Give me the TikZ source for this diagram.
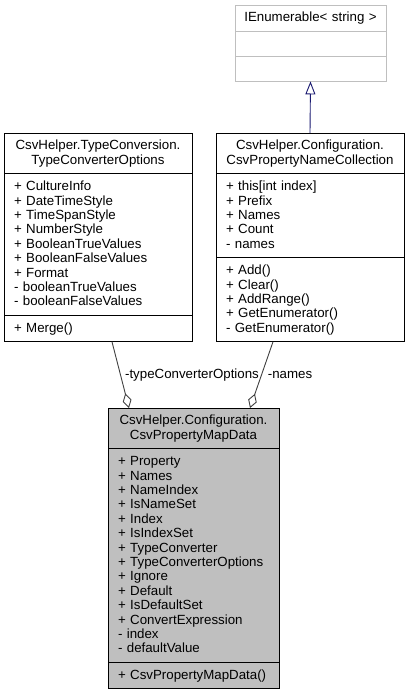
\documentclass[tikz,border=0pt]{standalone}
\usepackage{fontspec}
\setmainfont{Liberation Sans}
\usetikzlibrary{arrows.meta,calc}
\definecolor{grayfill}{HTML}{BFBFBF}
\definecolor{aggcol}{HTML}{404040}
\definecolor{inhcol}{HTML}{191970}
\newcommand\fs{\fontsize{13.3}{14.4}\selectfont}
\newcommand\ms{\rule[-3.6pt]{0pt}{14.4pt}}
\begin{document}
\begin{tikzpicture}[x=1pt,y=-1pt,
  sec/.style={draw=black, line width=0.9pt, anchor=north west, outer sep=0pt,
    inner xsep=8pt, inner ysep=6pt, font=\fs, fill=white},
  head/.style={sec, align=center},
  body/.style={sec, align=left, inner xsep=10pt},
  ext/.style={draw=grayfill},
  doc/.style={fill=grayfill},
  agg/.style={draw=aggcol, line width=0.9pt, -{Diamond[open, length=15pt, width=9pt]}},
  inh/.style={draw=inhcol, line width=0.9pt, -{Triangle[open, length=13pt, width=10pt]}},
  lbl/.style={font=\fs, inner sep=0pt}]
\useasboundingbox (0,0) rectangle (409,696);

% IEnumerable< string >
\node[head, ext, text width=135pt, minimum height=26.4pt] (ieh) at (235,5) {\ms IEnumerable< string >};
\node[body, ext, text width=131pt, minimum height=25pt] (iea) at (ieh.south west) {};
\node[body, ext, text width=131pt, minimum height=25pt] (iem) at (iea.south west) {};

% TypeConverterOptions
\node[head, text width=172pt, minimum height=40.8pt] (toh) at (4,133)
  {\ms CsvHelper.TypeConversion.\\\ms TypeConverterOptions};
\node[body, text width=168pt, minimum height=141.6pt] (toa) at (toh.south west)
  {\ms + CultureInfo\\\ms + DateTimeStyle\\\ms + TimeSpanStyle\\\ms + NumberStyle\\\ms + BooleanTrueValues\\\ms + BooleanFalseValues\\\ms + Format\\\ms - booleanTrueValues\\\ms - booleanFalseValues};
\node[body, text width=168pt, minimum height=26.4pt] (tom) at (toa.south west)
  {\ms + Merge()};

% CsvPropertyNameCollection
\node[head, text width=172pt, minimum height=40.8pt] (rh) at (216,133)
  {\ms CsvHelper.Configuration.\\\ms CsvPropertyNameCollection};
\node[body, text width=168pt, minimum height=84pt] (ra) at (rh.south west)
  {\ms + this[int index]\\\ms + Prefix\\\ms + Names\\\ms + Count\\\ms - names};
\node[body, text width=168pt, minimum height=84pt] (rm) at (ra.south west)
  {\ms + Add()\\\ms + Clear()\\\ms + AddRange()\\\ms + GetEnumerator()\\\ms - GetEnumerator()};

% CsvPropertyMapData
\node[head, doc, text width=155pt, minimum height=40.8pt] (mh) at (108,408)
  {\ms CsvHelper.Configuration.\\\ms CsvPropertyMapData};
\node[body, doc, text width=151pt, minimum height=213.6pt] (ma) at (mh.south west)
  {\ms + Property\\\ms + Names\\\ms + NameIndex\\\ms + IsNameSet\\\ms + Index\\\ms + IsIndexSet\\\ms + TypeConverter\\\ms + TypeConverterOptions\\\ms + Ignore\\\ms + Default\\\ms + IsDefaultSet\\\ms + ConvertExpression\\\ms - index\\\ms - defaultValue};
\node[body, doc, text width=151pt, minimum height=26.4pt] (mm) at (ma.south west)
  {\ms + CsvPropertyMapData()};

% connectors
\draw[inh] (rh.north) -- (iem.south);
\draw[agg] ([xshift=108pt]tom.south west) -- ([xshift=21pt]mh.north west);
\draw[agg] ([xshift=57pt]rm.south west) -- ([xshift=142pt]mh.north west);

% labels
\node[lbl] (l1) at (192,375) {-typeConverterOptions};
\node[lbl] (l2) at (290,375) {-names};
\end{tikzpicture}
\end{document}
